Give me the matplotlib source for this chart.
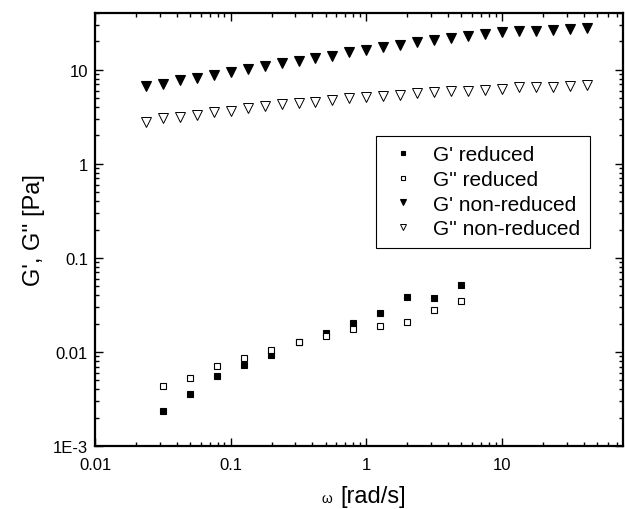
import numpy as np
import matplotlib
matplotlib.use("Agg")
import matplotlib.pyplot as plt
from matplotlib.ticker import LogLocator, FixedLocator, FixedFormatter, NullFormatter

plt.rcParams['font.family'] = ['Liberation Sans', 'DejaVu Sans']

# --- data ---
omega_nonred = [10 ** (k / 8) for k in range(-13, 14)]
Gp_nonred = [6.67, 7.05, 7.7, 8.2, 8.85, 9.5, 10.2, 10.9, 11.7, 12.5, 13.2, 14.1, 15.3, 16.3,
             17.3, 18.3, 19.5, 20.7, 21.7, 23.0, 23.8, 25.3, 26.0, 26.0, 26.6, 27.1, 27.5]
Gpp_nonred = [2.76, 3.07, 3.17, 3.31, 3.53, 3.67, 3.89, 4.08, 4.32, 4.4, 4.5, 4.77, 5.0, 5.16,
              5.3, 5.42, 5.61, 5.75, 5.98, 5.98, 6.12, 6.23, 6.5, 6.5, 6.6, 6.76, 6.87]

omega_red = [10 ** (-1.5 + 0.2 * i) for i in range(12)]
Gp_red = [0.00234, 0.00358, 0.00552, 0.00728, 0.0093, 0.0127, 0.0159, 0.0202, 0.026,
          0.0381, 0.0375, 0.0515]
Gpp_red = [0.00431, 0.00528, 0.00705, 0.00863, 0.0105, 0.0127, 0.0149, 0.0175, 0.019,
           0.021, 0.0279, 0.0346]

labels = ["G' reduced", "G'' reduced", "G' non-reduced", "G'' non-reduced"]
ytick_vals = [1e-3, 1e-2, 1e-1, 1, 10]
ytick_labels = ["1E-3", "0.01", "0.1", "1", "10"]
xtick_vals = [0.01, 0.1, 1, 10]
xtick_labels = ["0.01", "0.1", "1", "10"]

fig = plt.figure(figsize=(6.25, 5.1), dpi=100)
ax = fig.add_axes([0.152, 0.1235, 0.845, 0.849])

ax.plot(omega_red, Gp_red, 's', ms=5, mfc='black', mec='black', mew=0.8,
        ls='none', label=labels[0], zorder=3)
ax.plot(omega_red, Gpp_red, 's', ms=5, mfc='white', mec='black', mew=0.8,
        ls='none', label=labels[1], zorder=4)
ax.plot(omega_nonred, Gp_nonred, 'v', ms=7, mfc='black', mec='black', mew=0.8,
        ls='none', label=labels[2], zorder=3)
ax.plot(omega_nonred, Gpp_nonred, 'v', ms=7, mfc='white', mec='black', mew=0.7,
        ls='none', label=labels[3], zorder=4)

ax.set_xscale('log')
ax.set_yscale('log')
ax.set_xlim(0.01, 78)
ax.set_ylim(1e-3, 40)

ax.xaxis.set_major_locator(FixedLocator(xtick_vals))
ax.xaxis.set_major_formatter(FixedFormatter(xtick_labels))
ax.yaxis.set_major_locator(FixedLocator(ytick_vals))
ax.yaxis.set_major_formatter(FixedFormatter(ytick_labels))
ax.xaxis.set_minor_locator(LogLocator(base=10, subs=np.arange(2, 10), numticks=20))
ax.yaxis.set_minor_locator(LogLocator(base=10, subs=np.arange(2, 10), numticks=20))
ax.xaxis.set_minor_formatter(NullFormatter())
ax.yaxis.set_minor_formatter(NullFormatter())

ax.tick_params(which='both', direction='in', top=True, right=True, width=1.0,
               labelsize=12)
ax.tick_params(which='major', length=6)
ax.tick_params(which='minor', length=3)
ax.tick_params(axis='x', which='major', pad=8)
ax.tick_params(axis='y', which='major', pad=5)
for s in ax.spines.values():
    s.set_linewidth(1.6)

ax.set_ylabel("G', G'' [Pa]", fontsize=17, labelpad=6)
# x label: small omega followed by larger unit text
fig.text(0.532, 1 - 499 / 510, "ω", fontsize=10, ha='right', va='center')
fig.text(0.545, 1 - 497 / 510, "[rad/s]", fontsize=17, ha='left', va='center')

leg = ax.legend(loc='upper left', bbox_to_anchor=(0.532, 0.716), fontsize=15,
                frameon=True, fancybox=False, edgecolor='black', framealpha=1,
                markerscale=0.7, handlelength=1.7, handletextpad=0.6,
                labelspacing=0.27, borderpad=0.45, borderaxespad=0)
leg.get_frame().set_linewidth(0.8)

fig.savefig('out.png', dpi=100)
